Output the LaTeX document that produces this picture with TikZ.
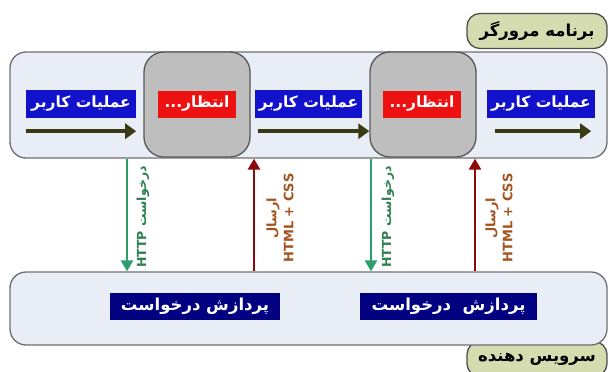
\documentclass[tikz,border=0pt]{standalone}
\usepackage{fontspec}
\usetikzlibrary{arrows.meta}
\newfontfamily\arabicfont[Script=Arabic]{DejaVu Sans}
\TeXXeTstate=1
\newcommand{\rtltext}[1]{\beginR #1\endR}
\definecolor{lanefill}{HTML}{E9EDF5}
\definecolor{laneline}{HTML}{6E6E6E}
\definecolor{waitfill}{HTML}{BEBEBE}
\definecolor{tagfill}{HTML}{D5DCB0}
\definecolor{opblue}{HTML}{1212CC}
\definecolor{waitred}{HTML}{EE1111}
\definecolor{jobnavy}{HTML}{000080}
\definecolor{flowdark}{HTML}{3A3A14}
\definecolor{reqgreen}{HTML}{2E9E6E}
\definecolor{reqtextgreen}{HTML}{2E8050}
\definecolor{resred}{HTML}{8B0A0A}
\definecolor{restextbrown}{HTML}{A4521E}
\tikzset{
  lane/.style={draw=laneline, fill=lanefill, line width=1.3pt, rounded corners=16pt},
  waitbox/.style={draw=laneline!80!black, fill=waitfill, line width=1.3pt, rounded corners=20pt,
    minimum width=106pt, minimum height=105pt},
  tagbox/.style={draw=laneline!70!black, fill=tagfill, line width=1.3pt, rounded corners=13pt,
    minimum width=140pt, minimum height=35pt, font=\arabicfont\bfseries\fontsize{16.5}{18}\selectfont},
  oplabel/.style={fill=opblue, text=white, minimum height=28pt, inner sep=1pt,
    font=\arabicfont\bfseries\fontsize{15.5}{17}\selectfont},
  waitlabel/.style={fill=waitred, text=white, minimum width=78pt, minimum height=27pt, inner sep=1pt,
    font=\arabicfont\bfseries\fontsize{15.5}{17}\selectfont},
  joblabel/.style={fill=jobnavy, text=white, minimum height=27pt, inner sep=1pt,
    font=\arabicfont\bfseries\fontsize{16.5}{18}\selectfont},
  flowarrow/.style={draw=flowdark, line width=4.5pt, -{Triangle[length=11pt,width=15pt]}},
  reqarrow/.style={draw=reqgreen, line width=2.6pt, -{Triangle[length=11pt,width=12pt]}},
  resarrow/.style={draw=resred, line width=2.6pt, -{Triangle[length=11pt,width=12pt]}},
  reqtext/.style={rotate=90, text=reqtextgreen, inner sep=0pt,
    font=\arabicfont\bfseries\fontsize{12.5}{14}\selectfont},
  restext/.style={rotate=90, text=restextbrown, inner sep=0pt, align=center,
    font=\arabicfont\bfseries\fontsize{13}{17}\selectfont}
}
\begin{document}
\begin{tikzpicture}[x=1pt,y=-1pt]
  \useasboundingbox (0,0) rectangle (611,372);
  \node[tagbox] (browsertag) at (537,31) {\rtltext{برنامه مرورگر}};
  \node[tagbox] (servertag) at (537,359) {\rtltext{سرویس دهنده}};
  \node[lane, minimum width=597pt, minimum height=106pt] (browser) at (308.5,105) {};
  \node[lane, minimum width=597pt, minimum height=73pt] (server) at (308.5,308.5) {};
  \node[waitbox] (wait1) at (197,104.5) {};
  \node[waitbox] (wait2) at (423,104.5) {};
  \node[oplabel, minimum width=110pt] (op1) at (81,104) {\rtltext{عملیات کاربر}};
  \node[oplabel, minimum width=107pt] (op2) at (308.5,104) {\rtltext{عملیات کاربر}};
  \node[oplabel, minimum width=108pt] (op3) at (541,104) {\rtltext{عملیات کاربر}};
  \node[waitlabel] (waiting1) at (197,104) {\rtltext{انتظار\kern0pt...}};
  \node[waitlabel] (waiting2) at (422,104) {\rtltext{انتظار\kern0pt...}};
  \node[joblabel, minimum width=170pt] (job1) at (195,306.5) {\rtltext{پردازش درخواست}};
  \node[joblabel, minimum width=177pt] (job2) at (448.5,306.5) {\rtltext{پردازش\ \ درخواست}};
  \draw[flowarrow] (op1.south west) ++(0,13) coordinate (flow1a) -- (op1.south east |- flow1a);
  \draw[flowarrow] (op2.south west) ++(3,13) coordinate (flow2a) -- (wait2.west |- flow2a);
  \draw[flowarrow] (op3.south west) ++(8,13) coordinate (flow3a) -- ([xshift=-4pt]op3.south east |- flow3a);
  \draw[reqarrow] (127,0 |- browser.south) -- (127,0 |- server.north);
  \draw[resarrow] (254,0 |- server.north) -- (254,0 |- browser.south);
  \draw[reqarrow] (371,0 |- browser.south) -- (371,0 |- server.north);
  \draw[resarrow] (475,0 |- server.north) -- (475,0 |- browser.south);
  \node[reqtext] (request1) at (143,217) {\rtltext{درخواست \beginL HTTP\endL}};
  \node[restext] (response1) at (280,218) {\rtltext{ارسال}\\HTML + CSS};
  \node[reqtext] (request2) at (388,217) {\rtltext{درخواست \beginL HTTP\endL}};
  \node[restext] (response2) at (499,218) {\rtltext{ارسال}\\HTML + CSS};
\end{tikzpicture}
\end{document}
